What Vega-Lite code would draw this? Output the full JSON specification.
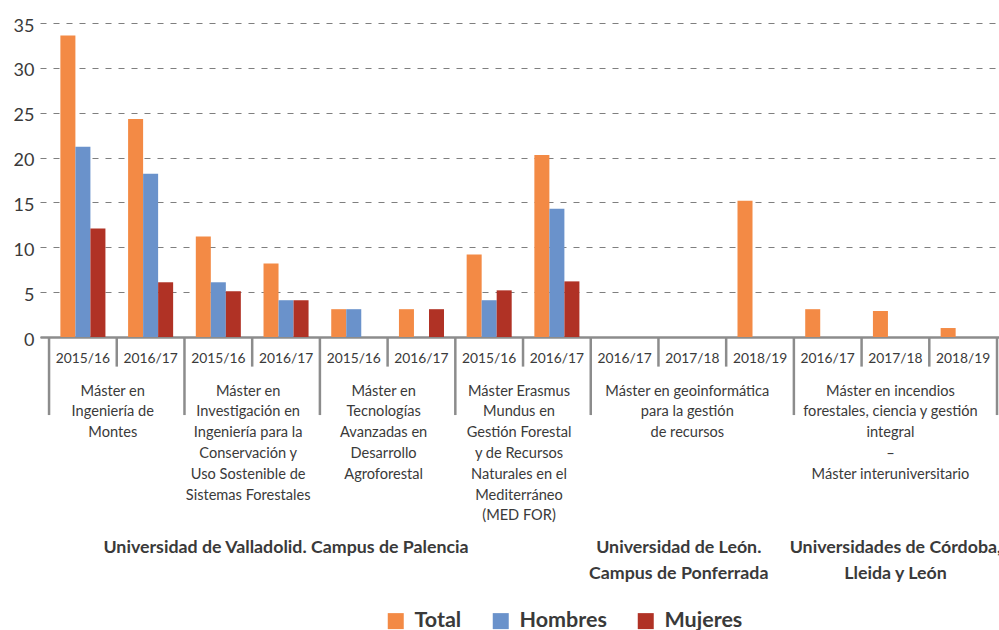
{
  "$schema": "https://vega.github.io/schema/vega-lite/v6.json",
  "width": 959,
  "height": 314,
  "autosize": {"type": "none"},
  "padding": {"left": 40, "top": 23, "right": 0, "bottom": 293},
  "background": "white",
  "config": {"view": {"stroke": null}, "font": "Lato"},
  "datasets": {
    "bars": [
      {"cat": "c01", "serie": "Total", "value": 33.6}, {"cat": "c01", "serie": "Hombres", "value": 21.2}, {"cat": "c01", "serie": "Mujeres", "value": 12.1},
      {"cat": "c02", "serie": "Total", "value": 24.3}, {"cat": "c02", "serie": "Hombres", "value": 18.2}, {"cat": "c02", "serie": "Mujeres", "value": 6.1},
      {"cat": "c03", "serie": "Total", "value": 11.2}, {"cat": "c03", "serie": "Hombres", "value": 6.1}, {"cat": "c03", "serie": "Mujeres", "value": 5.1},
      {"cat": "c04", "serie": "Total", "value": 8.2}, {"cat": "c04", "serie": "Hombres", "value": 4.1}, {"cat": "c04", "serie": "Mujeres", "value": 4.1},
      {"cat": "c05", "serie": "Total", "value": 3.1}, {"cat": "c05", "serie": "Hombres", "value": 3.1}, {"cat": "c05", "serie": "Mujeres", "value": 0},
      {"cat": "c06", "serie": "Total", "value": 3.1}, {"cat": "c06", "serie": "Hombres", "value": 0}, {"cat": "c06", "serie": "Mujeres", "value": 3.1},
      {"cat": "c07", "serie": "Total", "value": 9.2}, {"cat": "c07", "serie": "Hombres", "value": 4.1}, {"cat": "c07", "serie": "Mujeres", "value": 5.2},
      {"cat": "c08", "serie": "Total", "value": 20.3}, {"cat": "c08", "serie": "Hombres", "value": 14.3}, {"cat": "c08", "serie": "Mujeres", "value": 6.2},
      {"cat": "c09", "serie": "Total", "value": 0}, {"cat": "c09", "serie": "Hombres", "value": 0}, {"cat": "c09", "serie": "Mujeres", "value": 0},
      {"cat": "c10", "serie": "Total", "value": 0}, {"cat": "c10", "serie": "Hombres", "value": 0}, {"cat": "c10", "serie": "Mujeres", "value": 0},
      {"cat": "c11", "serie": "Total", "value": 15.2}, {"cat": "c11", "serie": "Hombres", "value": 0}, {"cat": "c11", "serie": "Mujeres", "value": 0},
      {"cat": "c12", "serie": "Total", "value": 3.1}, {"cat": "c12", "serie": "Hombres", "value": 0}, {"cat": "c12", "serie": "Mujeres", "value": 0},
      {"cat": "c13", "serie": "Total", "value": 2.9}, {"cat": "c13", "serie": "Hombres", "value": 0}, {"cat": "c13", "serie": "Mujeres", "value": 0},
      {"cat": "c14", "serie": "Total", "value": 1.0}, {"cat": "c14", "serie": "Hombres", "value": 0}, {"cat": "c14", "serie": "Mujeres", "value": 0}
    ],
    "cats": [
      {"cat": "c01", "year": "2015/16"}, {"cat": "c02", "year": "2016/17"},
      {"cat": "c03", "year": "2015/16"}, {"cat": "c04", "year": "2016/17"},
      {"cat": "c05", "year": "2015/16"}, {"cat": "c06", "year": "2016/17"},
      {"cat": "c07", "year": "2015/16"}, {"cat": "c08", "year": "2016/17"},
      {"cat": "c09", "year": "2016/17"}, {"cat": "c10", "year": "2017/18"}, {"cat": "c11", "year": "2018/19"},
      {"cat": "c12", "year": "2016/17"}, {"cat": "c13", "year": "2017/18"}, {"cat": "c14", "year": "2018/19"}
    ]
  },
  "layer": [
    {
      "data": {"name": "bars"},
      "mark": {"type": "bar"},
      "encoding": {
        "x": {"field": "cat", "type": "nominal", "sort": null,
              "scale": {"paddingInner": 0, "paddingOuter": 0.0815, "align": 0.82},
              "axis": {"title": null, "labels": false, "ticks": false, "domain": true, "domainColor": "#8c8c8c", "domainWidth": 2.5, "grid": false}},
        "xOffset": {"field": "serie", "type": "nominal", "sort": ["Total", "Hombres", "Mujeres"],
                    "scale": {"paddingInner": 0, "paddingOuter": 0.755}},
        "y": {"field": "value", "type": "quantitative",
              "scale": {"domain": [0, 35], "nice": false},
              "axis": {"title": null, "values": [0, 5, 10, 15, 20, 25, 30, 35], "domain": false, "ticks": false,
                       "labelFontSize": 18, "labelColor": "#3a3a3a", "labelPadding": 6, "labelOffset": 3,
                       "grid": true, "gridColor": "#7f7f7f", "gridDash": [6, 7], "gridWidth": 1.2}},
        "color": {"field": "serie", "type": "nominal",
                  "scale": {"domain": ["Total", "Hombres", "Mujeres"], "range": ["#F38A45", "#6A92CB", "#B03225"]},
                  "legend": {"title": null, "orient": "none", "direction": "horizontal", "legendX": 345, "legendY": 587,
                             "symbolType": "square", "symbolSize": 256, "symbolStrokeWidth": 0, "symbolOpacity": 1,
                             "labelFontSize": 21.5, "labelFontWeight": "bold", "labelColor": "#3a3a3a", "labelOffset": 8,
                             "columnPadding": 28}}
      }
    },
    {
      "data": {"name": "cats"},
      "mark": {"type": "text", "fontSize": 13.8, "color": "#3a3a3a", "align": "center", "baseline": "alphabetic"},
      "encoding": {
        "x": {"field": "cat", "type": "nominal"},
        "y": {"datum": -2.93, "type": "quantitative", "scale": {"domain": [0, 35], "nice": false}},
        "text": {"field": "year"}
      }
    },
    {
      "data": {"values": [{"cat": "c02"}, {"cat": "c04"}, {"cat": "c06"}, {"cat": "c08"}, {"cat": "c10"}, {"cat": "c11"}, {"cat": "c13"}, {"cat": "c14"}]},
      "mark": {"type": "rule", "color": "#8c8c8c", "strokeWidth": 2.5},
      "encoding": {
        "x": {"field": "cat", "type": "nominal", "bandPosition": 0},
        "y": {"datum": 0, "type": "quantitative", "scale": {"domain": [0, 35], "nice": false}},
        "y2": {"datum": -3.3}
      }
    },
    {
      "data": {"values": [{"cat": "c01"}, {"cat": "c03"}, {"cat": "c05"}, {"cat": "c07"}, {"cat": "c09"}, {"cat": "c12"}]},
      "mark": {"type": "rule", "color": "#8c8c8c", "strokeWidth": 2.5},
      "encoding": {
        "x": {"field": "cat", "type": "nominal", "bandPosition": 0},
        "y": {"datum": 0, "type": "quantitative", "scale": {"domain": [0, 35], "nice": false}},
        "y2": {"datum": -8.7}
      }
    },
    {
      "data": {"values": [{"cat": "c14"}]},
      "mark": {"type": "rule", "color": "#8c8c8c", "strokeWidth": 2.5},
      "encoding": {
        "x": {"field": "cat", "type": "nominal", "bandPosition": 1},
        "y": {"datum": 0, "type": "quantitative", "scale": {"domain": [0, 35], "nice": false}},
        "y2": {"datum": -8.7}
      }
    },
    {
      "data": {"values": [
        {"cat": "c02", "name": "Máster en\nIngeniería de\nMontes"},
        {"cat": "c04", "name": "Máster en\nInvestigación en\nIngeniería para la\nConservación y\nUso Sostenible de\nSistemas Forestales"},
        {"cat": "c06", "name": "Máster en\nTecnologías\nAvanzadas en\nDesarrollo\nAgroforestal"},
        {"cat": "c08", "name": "Máster Erasmus\nMundus en\nGestión Forestal\ny de Recursos\nNaturales en el\nMediterráneo\n(MED FOR)"}
      ]},
      "mark": {"type": "text", "fontSize": 14.6, "color": "#3a3a3a", "align": "center", "baseline": "alphabetic", "lineBreak": "\n", "lineHeight": 20.8, "dx": -4},
      "encoding": {
        "x": {"field": "cat", "type": "nominal", "bandPosition": 0},
        "y": {"datum": -6.54, "type": "quantitative", "scale": {"domain": [0, 35], "nice": false}},
        "text": {"field": "name"}
      }
    },
    {
      "data": {"values": [
        {"cat": "c10", "name": "Máster en geoinformática\npara la gestión\nde recursos"},
        {"cat": "c13", "name": "Máster en incendios\nforestales, ciencia y gestión\nintegral\n–\nMáster interuniversitario"}
      ]},
      "mark": {"type": "text", "fontSize": 14.6, "color": "#3a3a3a", "align": "center", "baseline": "alphabetic", "lineBreak": "\n", "lineHeight": 20.8, "dx": -5},
      "encoding": {
        "x": {"field": "cat", "type": "nominal", "bandPosition": 0.5},
        "y": {"datum": -6.54, "type": "quantitative", "scale": {"domain": [0, 35], "nice": false}},
        "text": {"field": "name"}
      }
    },
    {
      "data": {"values": [
        {"cat": "c04", "name": "Universidad de Valladolid. Campus de Palencia"},
        {"cat": "c13", "name": "Universidades de Córdoba,\nLleida y León"}
      ]},
      "mark": {"type": "text", "fontSize": 17.8, "fontWeight": "bold", "color": "#3a3a3a", "align": "center", "baseline": "alphabetic", "lineBreak": "\n", "lineHeight": 26.5},
      "encoding": {
        "x": {"field": "cat", "type": "nominal", "bandPosition": 0.5},
        "y": {"datum": -24.04, "type": "quantitative", "scale": {"domain": [0, 35], "nice": false}},
        "text": {"field": "name"}
      }
    },
    {
      "data": {"values": [
        {"cat": "c10", "name": "Universidad de León.\nCampus de Ponferrada"}
      ]},
      "mark": {"type": "text", "fontSize": 17.8, "fontWeight": "bold", "color": "#3a3a3a", "align": "center", "baseline": "alphabetic", "lineBreak": "\n", "lineHeight": 26.5},
      "encoding": {
        "x": {"field": "cat", "type": "nominal", "bandPosition": 0.3},
        "y": {"datum": -24.04, "type": "quantitative", "scale": {"domain": [0, 35], "nice": false}},
        "text": {"field": "name"}
      }
    }
  ]
}
